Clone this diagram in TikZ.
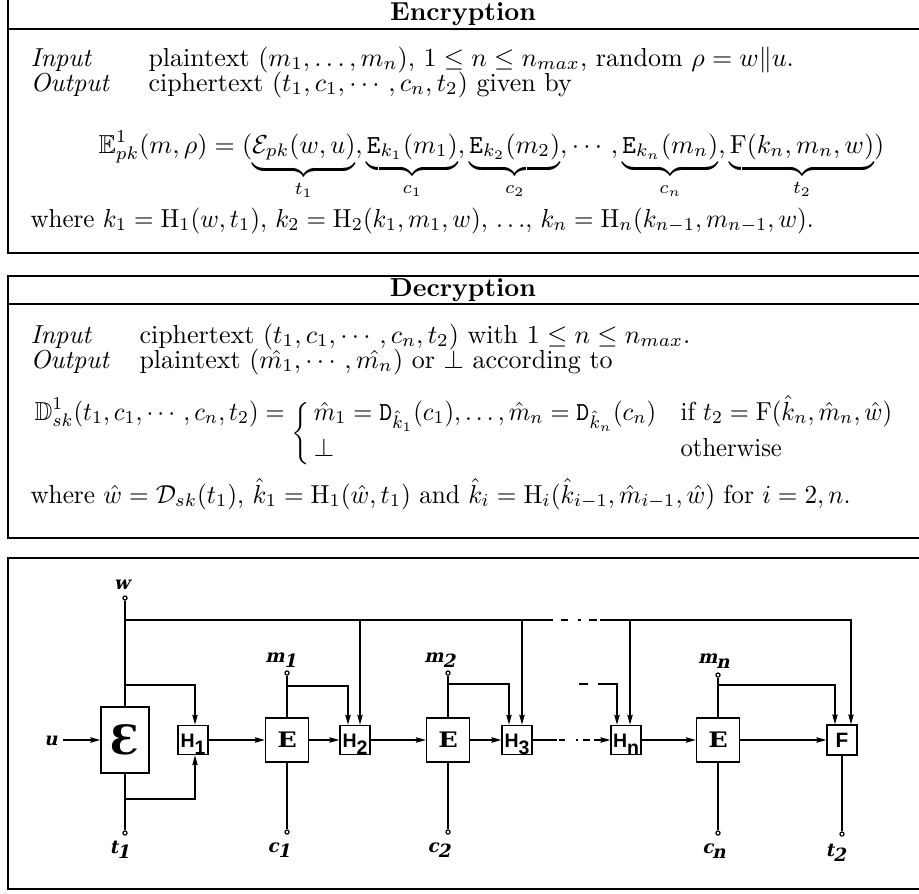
\documentclass[tikz,border=0pt]{standalone}
\usepackage{amsmath,amssymb,bm}
\usepackage{fontspec}
\usetikzlibrary{arrows.meta}
\newfontfamily\lsans{Liberation Sans}
\newfontfamily\dvserif{DejaVu Serif}
\newcommand\lab{\dvserif\bfseries\fontsize{7}{8}\selectfont}
\newcommand\hl[1]{{\lsans\bfseries\fontsize{7.5}{9}\selectfont H\raisebox{-2.7pt}{#1}}}
\newcommand\etxt{{\dvserif\bfseries\fontsize{8.2}{9}\selectfont\scalebox{1.2}[1]{E}}}
\newcommand\dsq[1]{\scalebox{0.945}[1]{#1}}
\begin{document}
\begin{tikzpicture}[x=0.38462pt,y=-0.38462pt,
 txt/.style={inner sep=0pt,anchor=base west},
 frame/.style={line width=0.9pt},
 wire/.style={line width=0.5pt},
 arr/.style={wire,-{Stealth[length=3.8pt,width=2.1pt,inset=0.5pt]}},
 blk/.style={draw,line width=0.6pt,inner sep=0pt,fill=white},
 ebox/.style={blk,minimum width=16.5pt,minimum height=17pt},
 hbox/.style={blk,minimum width=11.5pt,minimum height=11.2pt,text height=5.4pt,text depth=0pt},
 dot/.style={circle,draw,line width=0.45pt,fill=white,inner sep=0pt,minimum size=1.6pt},
 lbl/.style={inner sep=0pt,font=\lab,xslant=0.22,transform shape}]
\useasboundingbox (0,0) rectangle (919,893);
% frames
\draw[frame] (8,-5) rectangle (925,253);
\draw[frame] (8,29) -- (925,29);
\draw[frame] (8,276) rectangle (925,538);
\draw[frame] (8,304) -- (925,304);
\draw[frame] (8,558) rectangle (925,889);
% encryption
\node[inner sep=0pt,anchor=base] (enctitle) at (463,20) {\bfseries Encryption};
\node[txt] (ein) at (30,66) {\itshape Input};
\node[txt] (eintxt) at (148,66) {plaintext $(m_1,\ldots,m_n)$, $1\le n\le n_{max}$, random $\rho=w\|u$.};
\node[txt] (eout) at (30,91) {\itshape Output};
\node[txt] (eouttxt) at (148,91) {ciphertext $(t_1,c_1,\cdots,c_n,t_2)$ given by};
\node[txt] (eform) at (98,153) {$\displaystyle \mathbb{E}^1_{pk}(m,\rho)=(\underbrace{\mathcal{E}_{pk}(w,u)}_{t_1},\underbrace{\mathtt{E}_{k_1}(m_1)}_{c_1},\underbrace{\mathtt{E}_{k_2}(m_2)}_{c_2},\cdots,\underbrace{\mathtt{E}_{k_n}(m_n)}_{c_n},\underbrace{\mathrm{F}(k_n,m_n,w)}_{t_2})$};
\node[txt] (ewhere) at (30,227) {\scalebox{0.963}[1]{where $k_1=\mathrm{H}_1(w,t_1)$, $k_2=\mathrm{H}_2(k_1,m_1,w)$, $\ldots$, $k_n=\mathrm{H}_n(k_{n-1},m_{n-1},w)$.}};
% decryption
\node[inner sep=0pt,anchor=base] (dectitle) at (463,296) {\bfseries Decryption};
\node[txt] (din) at (30,343) {\itshape Input};
\node[txt] (dintxt) at (139,343) {ciphertext $(t_1,c_1,\cdots,c_n,t_2)$ with $1\le n\le n_{max}$.};
\node[txt] (dout) at (30,368) {\itshape Output};
\node[txt] (douttxt) at (139,368) {plaintext $(\hat{m_1},\cdots,\hat{m_n})$ or $\perp$ according to};
\node[txt] (dform) at (34,420) {\dsq{$\displaystyle\mathbb{D}^1_{sk}(t_1,c_1,\cdots,c_n,t_2) = \raisebox{-7.7pt}{$\left\{\rule[-10pt]{0pt}{25pt}\right.$}$}};
\node[txt] (drow1) at (dform.base east) {\dsq{$\hat{m}_1=\mathtt{D}_{\hat{k}_1}(c_1),\ldots,\hat{m}_n=\mathtt{D}_{\hat{k}_n}(c_n)$}};
\node[txt] (dif) at ([xshift=9pt]drow1.base east) {\dsq{if $t_2=\mathrm{F}(\hat{k}_n,\hat{m}_n,\hat{w})$}};
\node[txt] (dbot) at ([yshift=-14.2pt]drow1.base west) {$\perp$};
\node[txt] (dother) at ([yshift=-14.2pt]dif.base west) {\dsq{otherwise}};
\node[txt] (dwhere) at (30,503) {\scalebox{0.97}[1]{where $\hat{w}=\mathcal{D}_{sk}(t_1)$, $\hat{k}_1=\mathrm{H}_1(\hat{w},t_1)$ and $\hat{k}_i=\mathrm{H}_i(\hat{k}_{i-1},\hat{m}_{i-1},\hat{w})$ for $i=2,n$.}};
% diagram blocks
\node[blk,minimum width=18.5pt,minimum height=25.4pt] (Eps) at (125,740) {\dvserif\bfseries\fontsize{15.5}{16}\selectfont Ɛ};
\node[hbox] (H1) at (193,740) {\hl{1}};
\node[ebox] (E1) at (287,740) {\etxt};
\node[hbox] (H2) at (355,740) {\hl{2}};
\node[ebox] (E2) at (448,740) {\etxt};
\node[hbox] (H3) at (517,740) {\hl{3}};
\node[hbox] (Hn) at (626,740) {\hl{n}};
\node[ebox] (En) at (718,740) {\etxt};
\node[hbox,minimum height=11.5pt,text height=5.7pt] (F) at (842,740) {{\lsans\bfseries\fontsize{8}{9}\selectfont F}};
% terminals
\node[dot] (wdot) at (125,598) {};
\node[dot] (t1dot) at (125,833) {};
\node[dot] (m1dot) at (287,673) {};
\node[dot] (c1dot) at (287,832) {};
\node[dot] (m2dot) at (448,673) {};
\node[dot] (c2dot) at (448,832) {};
\node[dot] (mndot) at (718,675) {};
\node[dot] (cndot) at (718,833) {};
\node[dot] (t2dot) at (842,834) {};
% labels
\node[lbl] (wl) at (123,585) {w};
\node[lbl] (ul) at (52,741) {u};
\node[lbl] (t1l) at (121,850) {t\raisebox{-1.8pt}{1}};
\node[lbl] (m1l) at (282,660) {m\raisebox{-1.8pt}{1}};
\node[lbl] (c1l) at (280,850) {c\raisebox{-1.8pt}{1}};
\node[lbl] (m2l) at (441,660) {m\raisebox{-1.8pt}{2}};
\node[lbl] (c2l) at (440,850) {c\raisebox{-1.8pt}{2}};
\node[lbl] (mnl) at (715,661) {m\raisebox{-1.8pt}{n}};
\node[lbl] (cnl) at (715,851) {c\raisebox{-1.8pt}{n}};
\node[lbl] (t2l) at (837,853) {t\raisebox{-1.8pt}{2}};
% wires
\coordinate (ustart) at (63,740);
\draw[arr] (ustart) -- (Eps);
\draw[wire] (wdot) -- (Eps);
\draw[wire] (Eps) -- (t1dot);
\draw[wire] (125,620) -- (553,620);
\draw[wire] (561,620) -- (568,620) (578,620) -- (581,620) (589,620) -- (597,620);
\draw[arr] (600,620) -- (851,620) -- (851,620 |- F.north);
\draw[arr] (360,620) -- (360,620 |- H2.north);
\draw[arr] (522,620) -- (522,620 |- H3.north);
\draw[arr] (630,620) -- (630,620 |- Hn.north);
\draw[arr] (125,685) -- (195,685) -- (195,685 |- H1.north);
\draw[arr] (125,799) -- (195,799) -- (195,799 |- H1.south);
\draw[arr] (H1) -- (E1);
\draw[wire] (m1dot) -- (E1);
\draw[arr] (287,686) -- (348,686) -- (348,686 |- H2.north);
\draw[wire] (E1) -- (c1dot);
\draw[arr] (E1) -- (H2);
\draw[arr] (H2) -- (E2);
\draw[wire] (m2dot) -- (E2);
\draw[arr] (448,684) -- (509,684) -- (509,684 |- H3.north);
\draw[wire] (E2) -- (c2dot);
\draw[arr] (E2) -- (H3);
\draw[wire] (H3.east) -- (557,740);
\draw[wire] (559,740) -- (565,740) (576,740) -- (578,740) (583,740) -- (590,740);
\coordinate (hnin) at (594,740);
\draw[arr] (hnin) -- (Hn);
\draw[wire] (579,684) -- (588,684);
\draw[arr] (598,684) -- (617,684) -- (617,684 |- Hn.north);
\draw[arr] (Hn) -- (En);
\draw[wire] (mndot) -- (En);
\draw[arr] (718,685) -- (835,685) -- (835,685 |- F.north);
\draw[wire] (En) -- (cndot);
\draw[arr] (En) -- (F);
\draw[wire] (F) -- (t2dot);
\end{tikzpicture}
\end{document}
